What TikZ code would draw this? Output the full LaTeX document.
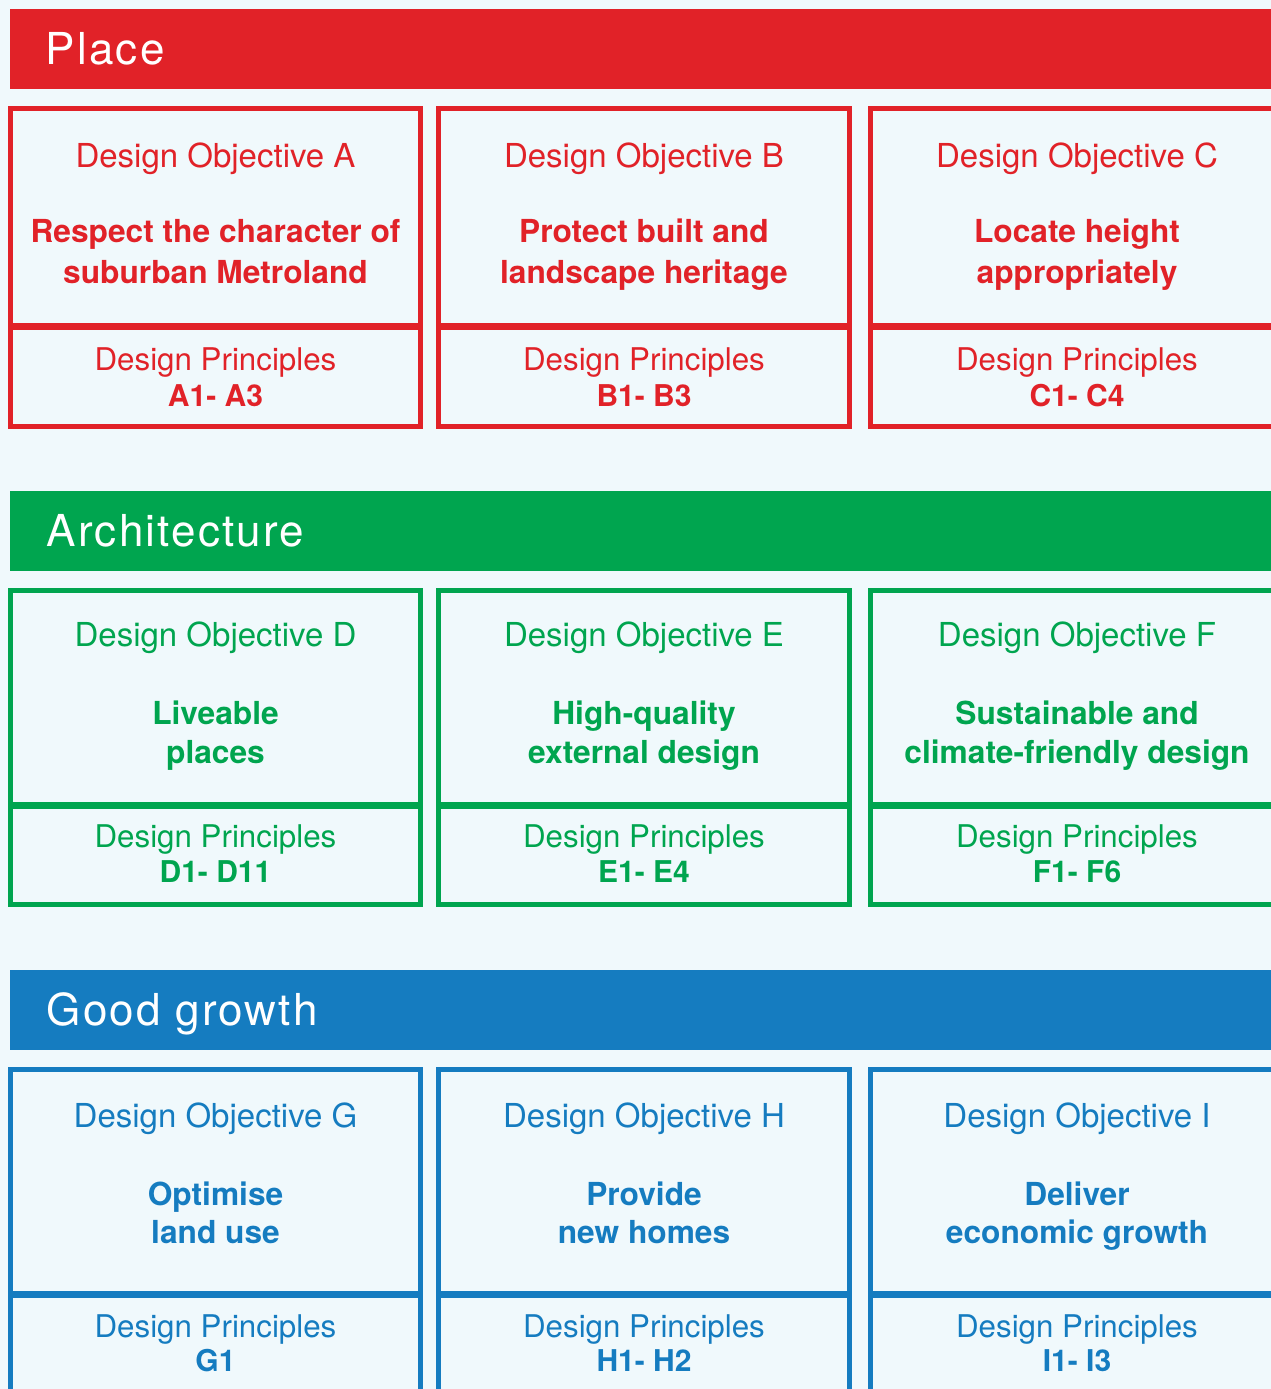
\documentclass[tikz,border=0pt]{standalone}
\usepackage{fontspec}
\setmainfont{TeX Gyre Heros}
\newfontfamily\titlefont[LetterSpace=5]{TeX Gyre Heros}
\definecolor{bgc}{HTML}{F0F9FC}
\definecolor{plred}{HTML}{E12228}
\definecolor{argreen}{HTML}{00A54F}
\definecolor{grblue}{HTML}{157CC0}
\newcommand\dobox[8]{%
  \node[frame=\col, minimum width={#3-#2}, minimum height={\divU-\boxT}, anchor=north west] (#1o) at (#2,\boxT) {};
  \node[frame=\col, minimum width={#3-#2}, minimum height={\boxB-\divL}, anchor=north west] (#1p) at (#2,\divL) {};
  \node[objtext=\col] (#1t) at (#4,\bObj) {Design Objective #5};
  \node[aimtext=\col] (#1a) at (#4,\bA) {#6};
  \node[aimtext=\col] (#1b) at (#4,\bB) {#7};
  \node[prtext=\col] (#1d) at (#4,\bDP) {Design Principles};
  \node[codetext=\col] (#1c) at (#4,\bC) {#8};
}
\begin{document}
\begin{tikzpicture}[x=1pt,y=-1pt,
  frame/.style={draw=#1, line width=5pt, inner sep=0pt, outer sep=0pt},
  bar/.style={fill=#1, draw=none, minimum width=1300, minimum height=80, anchor=north west, inner sep=0pt},
  titletext/.style={text=white, font=\titlefont\fontsize{44}{50}\selectfont, anchor=base west, inner sep=0pt},
  objtext/.style={text=#1, font=\fontsize{33}{38}\selectfont, anchor=base, inner sep=0pt},
  aimtext/.style={text=#1, font=\bfseries\fontsize{31.7}{38}\selectfont, anchor=base, inner sep=0pt},
  prtext/.style={text=#1, font=\fontsize{31.3}{36}\selectfont, anchor=base, inner sep=0pt},
  codetext/.style={text=#1, font=\bfseries\fontsize{30}{35}\selectfont, anchor=base, inner sep=0pt}]
\clip (0,0) rectangle (1271,1389);
\useasboundingbox (0,0) rectangle (1271,1389);
\fill[bgc] (0,0) rectangle (1271,1389);

% ---------- Place ----------
\def\col{plred}
\node[bar=plred] (placebar) at (10,9) {};
\node[titletext] (placetitle) at (45.5,64) {Place};
\def\boxT{108.5}\def\divU{325.5}\def\divL{327.5}\def\boxB{426.5}
\def\bObj{167}\def\bA{242.7}\def\bB{283}\def\bDP{370.7}\def\bC{406}
\dobox{A}{10.5}{420.5}{215.5}{A}{Respect the character of}{suburban Metroland}{A1- A3}
\dobox{B}{438}{849}{644}{B}{Protect built and}{landscape heritage}{B1- B3}
\dobox{C}{870}{1290}{1077}{C}{Locate height}{appropriately}{C1- C4}

% ---------- Architecture ----------
\def\col{argreen}
\node[bar=argreen] (archbar) at (10,491) {};
\node[titletext] (archtitle) at (46.5,546.7) {Architecture};
\def\boxT{590}\def\divU{804.2}\def\divL{806}\def\boxB{904.8}
\def\bObj{646.7}\def\bA{724}\def\bB{763}\def\bDP{847.7}\def\bC{882.7}
\dobox{D}{10.5}{420.5}{215.5}{D}{Liveable}{places}{D1- D11}
\dobox{E}{438}{849}{644}{E}{High-quality}{external design}{E1- E4}
\dobox{F}{870}{1290}{1077}{F}{Sustainable and}{climate-friendly design}{F1- F6}

% ---------- Good growth ----------
\def\col{grblue}
\node[bar=grblue] (growbar) at (10,970) {};
\node[titletext] (growtitle) at (46.5,1025.5) {Good growth};
\def\boxT{1069}\def\divU{1293.2}\def\divL{1295}\def\boxB{1420}
\def\bObj{1127.7}\def\bA{1205}\def\bB{1243.3}\def\bDP{1337.3}\def\bC{1371.7}
\dobox{G}{10.5}{420.5}{215.5}{G}{Optimise}{land use}{G1}
\dobox{H}{438}{849}{644}{H}{Provide}{new homes}{H1- H2}
\dobox{I}{870}{1290}{1077}{I}{Deliver}{economic growth}{I1- I3}
\end{tikzpicture}
\end{document}
